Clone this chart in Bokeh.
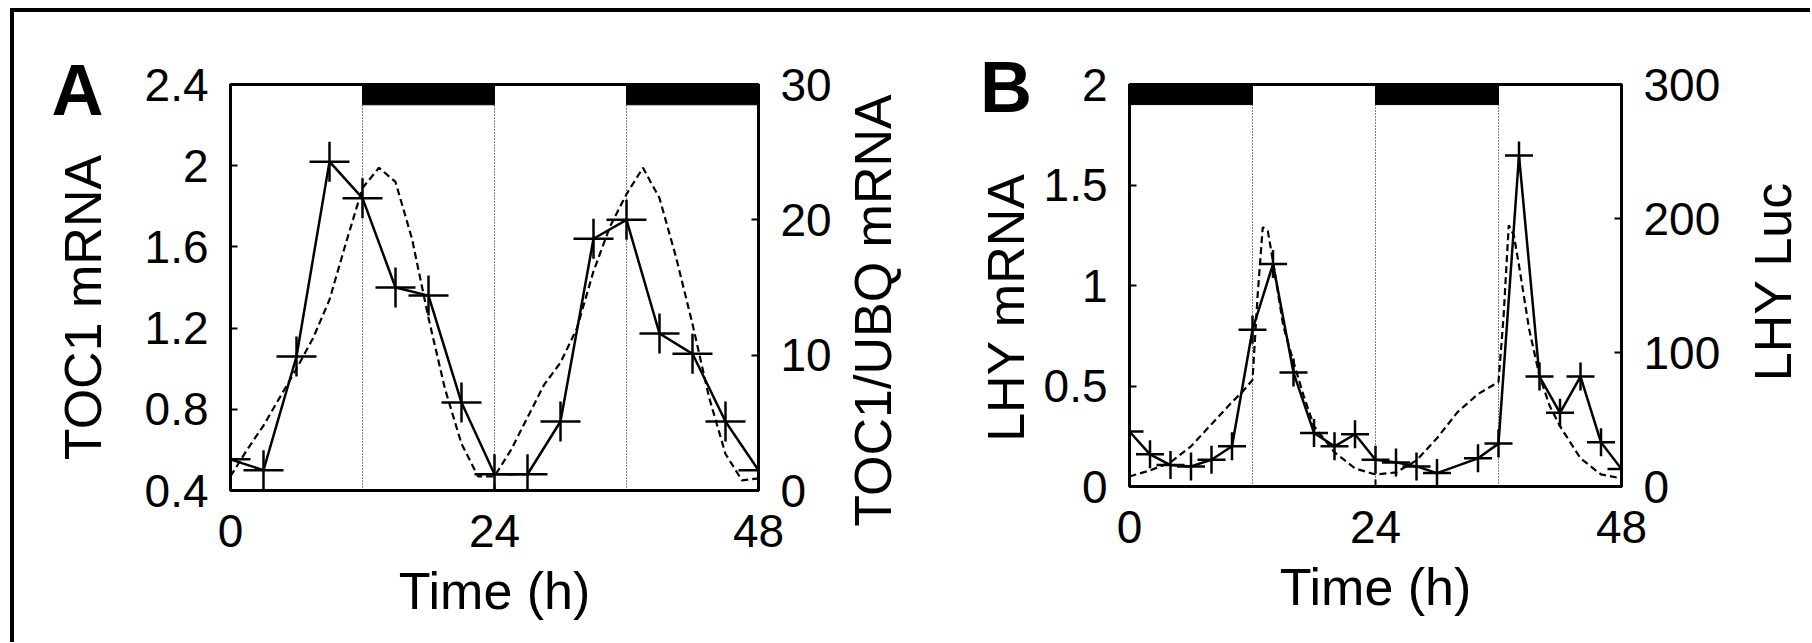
import math
from bokeh.plotting import figure
from bokeh.models import Range1d, LinearAxis, FixedTicker
from bokeh.core.properties import value
from bokeh.layouts import row
from bokeh.embed import file_html
from bokeh.resources import INLINE

# ---------------- Panel A data ----------------
a_time_data = [0, 3, 6, 9, 12, 15, 18, 21, 24, 27, 30, 33, 36, 39, 42, 45, 48]
a_toc1_ubq = [2.3, 1.5, 9.9, 24.3, 21.6, 15.0, 14.4, 6.5, 1.2, 1.2, 5.1, 18.6, 20.0, 11.6, 10.1, 5.1, 1.5]
a_time_model = [0, 1.5, 3, 4.5, 6, 7.5, 9, 10.5, 12, 13.5, 15, 16.5, 18, 19.5, 21, 22.5, 24,
                25.5, 27, 28.5, 30, 31.5, 33, 34.5, 36, 37.5, 39, 40.5, 42, 43.5, 45, 46.5, 48]
a_toc1_model = [0.47, 0.60, 0.72, 0.86, 1.00, 1.15, 1.34, 1.62, 1.89, 1.99, 1.92, 1.64, 1.25, 0.90, 0.63, 0.47, 0.47,
                0.60, 0.76, 0.92, 1.03, 1.20, 1.48, 1.70, 1.86, 1.99, 1.84, 1.55, 1.22, 0.86, 0.58, 0.45, 0.46]
a_dark_start = [12, 36]
a_dark_end = [24, 48]
a_light_edges = [12, 24, 36]
a_left_ticks = [0.4, 0.8, 1.2, 1.6, 2, 2.4]
a_left_labels = ["0.4", "0.8", "1.2", "1.6", "2", "2.4"]
a_right_ticks = [0, 10, 20, 30]

# ---------------- Panel B data ----------------
b_time_data = [0, 2, 4, 6, 8, 10, 12, 14, 16, 18, 20, 22, 24, 26, 28, 30, 34, 36, 38, 40, 42, 44, 46, 48]
b_lhy_luc = [41, 24, 16, 15, 20, 30, 117, 166, 85, 40, 30, 39, 20, 18, 15, 10, 21, 32, 247, 82, 55, 82, 33, 13]
b_time_model = [0, 2, 4, 6, 8, 10, 11, 12, 12.5, 13, 13.5, 14, 15, 16, 17, 18, 20, 22, 24,
                26, 28, 30, 32, 34, 35, 36, 36.5, 37, 37.5, 38, 39, 40, 41, 42, 44, 46, 48]
b_lhy_model = [0.05, 0.08, 0.12, 0.20, 0.31, 0.42, 0.47, 0.53, 0.95, 1.29, 1.27, 1.12, 0.80, 0.62, 0.45, 0.30, 0.17, 0.09, 0.06,
               0.07, 0.13, 0.24, 0.37, 0.46, 0.49, 0.52, 0.85, 1.30, 1.25, 1.10, 0.78, 0.55, 0.40, 0.30, 0.14, 0.06, 0.04]
b_dark_start = [0, 24]
b_dark_end = [12, 36]
b_light_edges = [12, 24, 36]
b_left_ticks = [0, 0.5, 1, 1.5, 2]
b_left_labels = ["0", "0.5", "1", "1.5", "2"]
b_right_ticks = [0, 100, 200, 300]
x_ticks = [0, 24, 48]

FONT = "Liberation Sans"
TICK_FS = "46px"
LABEL_FS = "52px"
H = 630            # height of every figure in the row
TOP = 72           # top border of every figure (frames are aligned by the row)
FRAME_TOP = 84     # page y of the frames' top edge
GF = H - TOP       # frame height of the text strips


def style_axis(ax, ticks, standoff):
    ax.ticker = FixedTicker(ticks=ticks)
    ax.major_tick_in = 7
    ax.major_tick_out = 0
    ax.minor_tick_line_color = None
    ax.axis_line_width = 3
    ax.axis_line_color = "black"
    ax.major_tick_line_width = 2
    ax.major_tick_line_color = "black"
    ax.major_label_text_font = FONT
    ax.major_label_text_font_size = TICK_FS
    ax.major_label_text_color = "black"
    ax.major_label_standoff = standoff
    ax.axis_label_text_font = FONT
    ax.axis_label_text_font_size = LABEL_FS
    ax.axis_label_text_font_style = "normal"
    ax.axis_label_text_color = "black"


def make_panel(xr, yr, ry, fw, fh, bl, br):
    p = figure(frame_width=fw, frame_height=fh, min_border_left=bl, min_border_right=br,
               min_border_top=TOP, min_border_bottom=H - TOP - fh, x_range=Range1d(*xr), y_range=Range1d(*yr),
               output_backend="svg", toolbar_location=None, align="start")
    p.extra_y_ranges = {"r": Range1d(*ry)}
    p.grid.visible = False
    p.outline_line_color = "black"
    p.outline_line_width = 3
    p.background_fill_color = "white"
    p.border_fill_color = "white"
    return p


def gutter(x0, width, texts, letter=None, letter_standoff=0):
    """A plain strip (no axes) that carries the axis titles lying outside the panels' frames.
    texts: (page_x, page_y of the text's centre, text). The panel letter is drawn as the
    label of an invisible axis above the strip, centred on the strip."""
    g = figure(frame_width=width, frame_height=GF, min_border_left=0, min_border_right=0,
               min_border_top=TOP, min_border_bottom=0, x_range=Range1d(0, width),
               y_range=Range1d(0, GF), x_axis_type=None, y_axis_type=None,
               output_backend="svg", toolbar_location=None, align="start")
    g.grid.visible = False
    g.outline_line_color = None
    g.background_fill_color = "white"
    g.border_fill_color = "white"
    for px, py, txt in texts:
        g.text(x=[px - x0], y=[GF - (py - FRAME_TOP)], text=[txt], angle=math.pi / 2,
               text_font=value(FONT), text_font_size=value(LABEL_FS), text_color="black",
               text_align="center", text_baseline="middle")
    if letter is not None:
        ax = LinearAxis(ticker=FixedTicker(ticks=[]), axis_label=letter)
        ax.axis_line_color = None
        ax.major_tick_line_color = None
        ax.minor_tick_line_color = None
        ax.axis_label_text_font = FONT
        ax.axis_label_text_font_size = "72px"
        ax.axis_label_text_font_style = "bold"
        ax.axis_label_text_color = "black"
        ax.axis_label_standoff = letter_standoff
        g.add_layout(ax, "above")
    return g


# ---------------- Panel A ----------------
pa = make_panel((0, 48), (0.4, 2.4), (0, 30), 528, 406, 90, 76)
bar_a = 0.1
pa.quad(left=a_dark_start, right=a_dark_end, top=2.4, bottom=2.4 - bar_a, color="black")
pa.segment(x0=a_light_edges, y0=0.4, x1=a_light_edges, y1=2.4 - bar_a,
           line_color="black", line_width=1, line_dash="1 2")
pa.line(a_time_model, a_toc1_model, line_color="black", line_width=2.2, line_dash="7 4")
pa.line(a_time_data, a_toc1_ubq, y_range_name="r", line_color="black", line_width=2.5)
pa.scatter(a_time_data, a_toc1_ubq, y_range_name="r", marker="cross", size=40,
           line_color="black", line_width=2.5)

style_axis(pa.xaxis[0], x_ticks, 24)
pa.xaxis[0].axis_label = "Time (h)"
pa.xaxis[0].axis_label_standoff = 12
style_axis(pa.left[0], a_left_ticks, 22)
pa.left[0].major_label_overrides = dict(zip(a_left_ticks, a_left_labels))
ra = LinearAxis(y_range_name="r")
style_axis(ra, a_right_ticks, 22)
pa.add_layout(ra, "right")

# ---------------- Panel B ----------------
pb = make_panel((0, 48), (0, 2), (0, 300), 492, 402, 97, 102)
bar_b = 0.1
pb.quad(left=b_dark_start, right=b_dark_end, top=2, bottom=2 - bar_b, color="black")
pb.segment(x0=b_light_edges, y0=0, x1=b_light_edges, y1=2 - bar_b,
           line_color="black", line_width=1, line_dash="1 2")
pb.line(b_time_model, b_lhy_model, line_color="black", line_width=2.2, line_dash="7 4")
pb.line(b_time_data, b_lhy_luc, y_range_name="r", line_color="black", line_width=2.5)
pb.scatter(b_time_data, b_lhy_luc, y_range_name="r", marker="cross", size=28,
           line_color="black", line_width=2.5)

style_axis(pb.xaxis[0], x_ticks, 24)
pb.xaxis[0].axis_label = "Time (h)"
pb.xaxis[0].axis_label_standoff = 12
style_axis(pb.left[0], b_left_ticks, 22)
pb.left[0].major_label_overrides = dict(zip(b_left_ticks, b_left_labels))
rb = LinearAxis(y_range_name="r")
style_axis(rb, b_right_ticks, 22)
pb.add_layout(rb, "right")

# ---------------- strips with panel letters and axis titles ----------------
g1 = gutter(14, 126, [(82, 307, "TOC1 mRNA")], letter="A", letter_standoff=-45)
g2a = gutter(834, 145, [(872, 310, "TOC1/UBQ mRNA")])
g2b = gutter(979, 53, [(1005, 307, "LHY mRNA")], letter="B", letter_standoff=-42)
g3 = gutter(1723, 87, [(1772, 281, "LHY Luc")])

layout = row(g1, pa, g2a, g2b, pb, g3, spacing=0, align="start",
             styles={"margin-left": "10px", "margin-top": "8px",
                     "border-left": "4px solid black", "border-top": "4px solid black",
                     "background-color": "white"})

html = file_html(layout, INLINE, title="TOC1 and LHY")
html = html.replace("<body>", '<body style="background:#e8e5ef;margin:0;overflow:hidden">', 1)
open("out.html", "w").write(html)
